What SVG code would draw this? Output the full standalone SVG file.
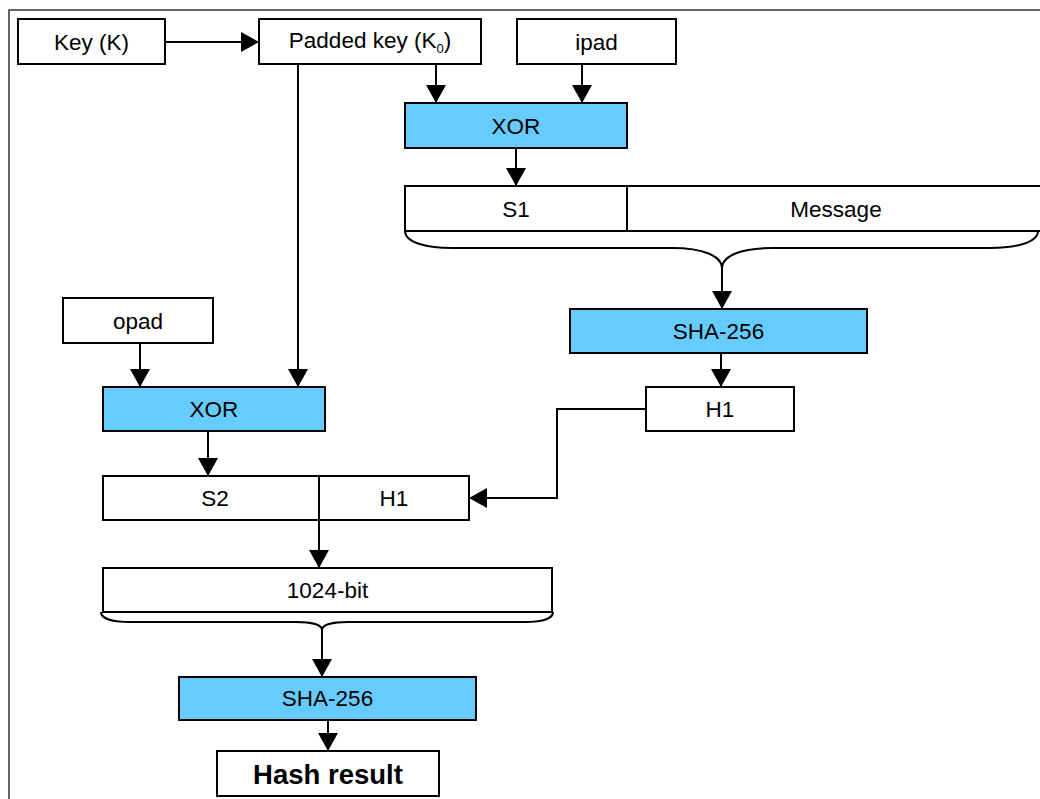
<svg xmlns="http://www.w3.org/2000/svg" width="1040" height="799" viewBox="0 0 1040 799">
<style>
.box{fill:#fff;stroke:#000;stroke-width:2}
.op{fill:#66ccff;stroke:#000;stroke-width:2}
.t{font-family:"Liberation Sans",Arial,sans-serif;font-size:22.5px;fill:#000;text-anchor:middle;dominant-baseline:central}
.b{font-weight:bold;font-size:27.5px}
.c{fill:none;stroke:#000;stroke-width:2}
.br{fill:none;stroke:#000;stroke-width:2}
</style>
<defs>
<marker id="ah" viewBox="0 0 18 20" markerWidth="18" markerHeight="20" markerUnits="userSpaceOnUse" refX="18" refY="10" orient="auto">
<path d="M0,0 L18,10 L0,20 z" fill="#000"/>
</marker>
</defs>
<rect width="1040" height="799" fill="#fff"/>
<path d="M9,799 L9,10 L1040,10" fill="none" stroke="#333" stroke-width="1.5"/>

<g id="key"><rect class="box" x="18" y="19" width="147" height="45"/><text class="t" x="91.5" y="42">Key (K)</text></g>
<g id="padded"><rect class="box" x="259" y="19" width="222" height="45"/><text class="t" x="370" y="40">Padded key (K<tspan font-size="13" dy="8">0</tspan><tspan dy="-8">)</tspan></text></g>
<g id="ipad"><rect class="box" x="517" y="19" width="159" height="45"/><text class="t" x="596.5" y="42">ipad</text></g>
<g id="xor1"><rect class="op" x="405" y="103" width="222" height="45"/><text class="t" x="516" y="126">XOR</text></g>
<g id="s1msg"><rect class="box" x="405" y="186" width="645" height="45"/><line x1="627" y1="186" x2="627" y2="231" stroke="#000" stroke-width="2"/><text class="t" x="516" y="209">S1</text><text class="t" x="836" y="209">Message</text></g>
<g id="sha1"><rect class="op" x="570" y="309" width="297" height="44"/><text class="t" x="718.5" y="331">SHA-256</text></g>
<g id="h1a"><rect class="box" x="646" y="387" width="148" height="44"/><text class="t" x="720" y="409">H1</text></g>
<g id="opad"><rect class="box" x="63" y="298" width="150" height="45"/><text class="t" x="138" y="321">opad</text></g>
<g id="xor2"><rect class="op" x="103" y="387" width="222" height="44"/><text class="t" x="214" y="409">XOR</text></g>
<g id="s2h1"><rect class="box" x="103" y="476" width="366" height="44"/><text class="t" x="215" y="498">S2</text><text class="t" x="394" y="498">H1</text></g>
<g id="bits"><rect class="box" x="103" y="568" width="449" height="44"/><text class="t" x="327.5" y="590">1024-bit</text></g>
<g id="sha2"><rect class="op" x="179" y="677" width="297" height="43"/><text class="t" x="327.5" y="698">SHA-256</text></g>
<g id="hash"><rect class="box" x="217" y="751" width="222" height="45"/><text class="t b" x="328" y="774">Hash result</text></g>

<g id="connectors">
<line class="c" x1="165" y1="42" x2="259" y2="42" marker-end="url(#ah)"/>
<line class="c" x1="436" y1="64" x2="436" y2="103" marker-end="url(#ah)"/>
<line class="c" x1="582" y1="64" x2="582" y2="103" marker-end="url(#ah)"/>
<line class="c" x1="516" y1="148" x2="516" y2="186" marker-end="url(#ah)"/>
<path class="br" d="M405,231 C405,243 428,248 452,248 L672,248 C703,248 722,256 722,268 C722,256 741,248 772,248 L990,248 C1014,248 1038,243 1038,231"/>
<line class="c" x1="722" y1="267" x2="722" y2="309" marker-end="url(#ah)"/>
<line class="c" x1="721" y1="353" x2="721" y2="387" marker-end="url(#ah)"/>
<path class="c" stroke-width="1.5" d="M646,409 L557,409 L557,498 L469,498" marker-end="url(#ah)"/>
<line class="c" x1="298" y1="64" x2="298" y2="387" marker-end="url(#ah)"/>
<line class="c" x1="140" y1="343" x2="140" y2="387" marker-end="url(#ah)"/>
<line class="c" x1="208" y1="431" x2="208" y2="476" marker-end="url(#ah)"/>
<line class="c" x1="319" y1="476" x2="319" y2="568" marker-end="url(#ah)"/>
<path class="br" d="M101,612 C101,619 114,622 130,622 L296,622 C312,622 322,625 322,630 C322,625 332,622 348,622 L525,622 C541,622 553,619 553,612"/>
<line class="c" x1="322" y1="629" x2="322" y2="677" marker-end="url(#ah)"/>
<line class="c" x1="328" y1="720" x2="328" y2="751" marker-end="url(#ah)"/>
</g>
</svg>
